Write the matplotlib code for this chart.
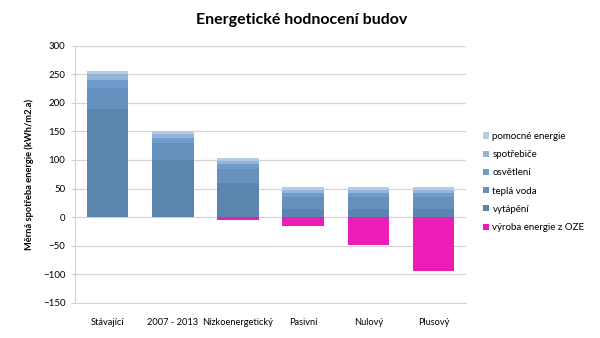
import numpy as np
import matplotlib
matplotlib.use('Agg')
import matplotlib.pyplot as plt

# categories and stacked components (kWh/m2.a)
categories = ["Stávající", "2007 - 2013", "Nízkoenergetický", "Pasivní", "Nulový", "Plusový"]
vytapeni = [190, 100, 60, 15, 15, 15]
tepla_voda = [35, 30, 25, 20, 20, 20]
osvetleni = [15, 8, 8, 8, 8, 8]
spotrebice = [10, 7, 5, 5, 5, 5]
pomocne = [5, 5, 5, 4, 4, 4]
vyroba_oze = [0, 0, -5, -15, -48, -95]

series = [
    ("vytápění", vytapeni, "#5b84ae"),
    ("teplá voda", tepla_voda, "#6690bd"),
    ("osvětlení", osvetleni, "#6f9cca"),
    ("spotřebiče", spotrebice, "#94b4da"),
    ("pomocné energie", pomocne, "#b9cce6"),
]

plt.rcParams['font.family'] = ['Lato', 'DejaVu Sans']

fig = plt.figure(figsize=(6, 3.38), dpi=100)
ax = fig.add_axes([0.125, 0.104, 0.652, 0.761])

x = np.arange(len(categories))
width = 0.64
bottom = np.zeros(len(categories))
handles = []
for name, vals, col in series:
    b = ax.bar(x, vals, width, bottom=bottom, color=col, label=name, zorder=3)
    bottom += np.array(vals)
    handles.append(b)
neg = ax.bar(x, vyroba_oze, width, color="#ec1cb6", label="výroba energie z OZE", zorder=3)
handles.append(neg)

ax.set_xlim(-0.5, len(categories) - 0.5)
ax.set_ylim(-150, 300)
ax.set_yticks(range(-150, 301, 50))
ax.yaxis.grid(True, color="#d4d4d4", linewidth=0.9, zorder=0)
ax.set_axisbelow(True)
for s in ["top", "right"]:
    ax.spines[s].set_visible(False)
ax.spines["left"].set_color("#d4d4d4")
ax.spines["bottom"].set_color("#d4d4d4")
ax.tick_params(axis="y", labelsize=7, length=3, color="#d4d4d4", pad=4)
ax.tick_params(axis="x", length=0, labelsize=6.7, pad=11)
ax.set_xticks(x)
ax.set_xticklabels(categories)
ax.set_ylabel("Měrná spotřeba energie (kWh/m2.a)", fontsize=6.7, fontweight="bold", labelpad=6)

fig.text(0.503, 0.94, "Energetické hodnocení budov", ha="center", va="center",
         fontsize=11.5, fontweight="bold")

# legend in reverse stacking order, negative series last
order = [4, 3, 2, 1, 0, 5]
ax.legend([handles[i] for i in order], [handles[i].get_label() for i in order],
          loc="center left", bbox_to_anchor=(1.02, 0.47), frameon=False,
          fontsize=7, handlelength=0.6, handleheight=0.6, handletextpad=0.4,
          labelspacing=0.95)

plt.savefig("out.png", dpi=100)
